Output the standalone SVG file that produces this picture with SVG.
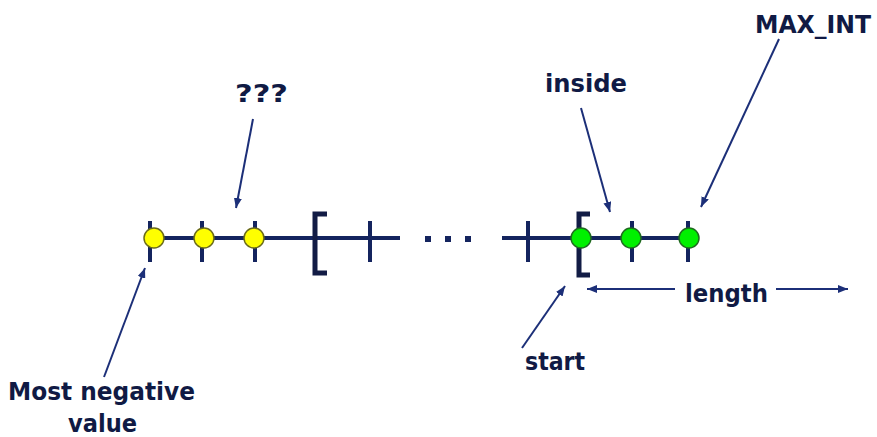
<svg xmlns="http://www.w3.org/2000/svg" width="877" height="437" viewBox="0 0 877 437">
<defs>
<marker id="ah" viewBox="0 0 10 8" refX="10" refY="4" markerWidth="10" markerHeight="8" markerUnits="userSpaceOnUse" orient="auto">
<path d="M0,0 L10,4 L0,8 Z" fill="#1c2f78"/>
</marker>
<style>
.axis{stroke:#14245e;stroke-width:4;fill:none}
.tick{stroke:#14245e;stroke-width:4}
.br{stroke:#121c45;stroke-width:5;fill:none}
.arr{stroke:#1c2f78;stroke-width:2;fill:none;marker-end:url(#ah)}
.y{fill:#ffff00;stroke:#6b6b1a;stroke-width:1.5}
.g{fill:#00f000;stroke:#1f6b1f;stroke-width:1.5}
text{font-family:"DejaVu Sans","Verdana",sans-serif;font-weight:bold;font-size:25px;fill:#101a44}
.dot{fill:#14245e}
</style>
</defs>
<rect width="877" height="437" fill="#ffffff"/>
<g id="numberline">
<line class="axis" x1="145" y1="238" x2="400" y2="238"/>
<line class="axis" x1="502" y1="238" x2="690" y2="238"/>
<line class="tick" x1="150" y1="221" x2="150" y2="262"/>
<line class="tick" x1="202" y1="221" x2="202" y2="262"/>
<line class="tick" x1="255" y1="221" x2="255" y2="262"/>
<line class="tick" x1="370" y1="221" x2="370" y2="262"/>
<line class="tick" x1="528" y1="221" x2="528" y2="262"/>
<line class="tick" x1="632" y1="221" x2="632" y2="262"/>
<line class="tick" x1="688" y1="221" x2="688" y2="262"/>
<path class="br" d="M327,214 H315 V273 H327"/>
<path class="br" d="M590,214 H579 V275 H590"/>
<rect class="dot" x="425" y="236" width="6" height="6"/>
<rect class="dot" x="445" y="236" width="6" height="6"/>
<rect class="dot" x="465" y="236" width="6" height="6"/>
</g>
<g id="points">
<circle class="y" cx="154" cy="238" r="10"/>
<circle class="y" cx="204" cy="238" r="10"/>
<circle class="y" cx="254" cy="238" r="10"/>
<circle class="g" cx="581" cy="238" r="10"/>
<circle class="g" cx="631" cy="238" r="10"/>
<circle class="g" cx="689" cy="238" r="10"/>
</g>
<g id="connectors">
<line class="arr" x1="253" y1="119" x2="236" y2="208"/>
<line class="arr" x1="581" y1="108" x2="610" y2="212"/>
<line class="arr" x1="779" y1="39" x2="701" y2="207"/>
<line class="arr" x1="104" y1="377" x2="145" y2="268"/>
<line class="arr" x1="522" y1="348" x2="565" y2="286"/>
<line class="arr" x1="675" y1="289" x2="587" y2="289"/>
<line class="arr" x1="776" y1="289" x2="848" y2="289"/>
</g>
<g id="label-qqq"><text x="235" y="102" textLength="53" lengthAdjust="spacingAndGlyphs">???</text></g>
<g id="label-inside"><text x="545" y="92" textLength="82" lengthAdjust="spacingAndGlyphs">inside</text></g>
<g id="label-maxint"><text x="755" y="33" textLength="116" lengthAdjust="spacingAndGlyphs">MAX_INT</text></g>
<g id="label-mostneg"><text x="8" y="400" textLength="187" lengthAdjust="spacingAndGlyphs">Most negative</text><text x="68" y="432" textLength="69" lengthAdjust="spacingAndGlyphs">value</text></g>
<g id="label-start"><text x="525" y="370" textLength="60" lengthAdjust="spacingAndGlyphs">start</text></g>
<g id="label-length"><text x="685" y="302" textLength="83" lengthAdjust="spacingAndGlyphs">length</text></g>
</svg>
